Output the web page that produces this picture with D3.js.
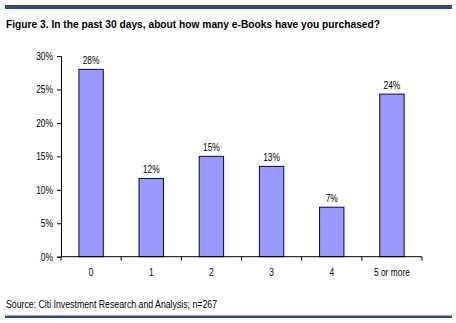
<!DOCTYPE html>
<html><head><meta charset="utf-8">
<script src="https://cdn.jsdelivr.net/npm/d3@7/dist/d3.min.js"></script>
<style>
body{margin:0;background:#fff;}
svg{display:block;}
</style></head>
<body><svg id="c" width="456" height="323"></svg>
<script>
const categories = ["0","1","2","3","4","5 or more"];
const values = [28.0, 11.7, 15.0, 13.5, 7.4, 24.3];
const valueLabels = ["28%","12%","15%","13%","7%","24%"];
const yTicks = [0,5,10,15,20,25,30];
const title = "Figure 3.  In the past 30 days, about how many e-Books have you purchased?";
const source = "Source: Citi Investment Research and Analysis; n=267";

const FONT = "Liberation Sans, Arial, sans-serif";
const NARROW = 0.8;
const svg = d3.select("#c");
const ruleColor = "#2f4b80";
svg.append("rect").attr("x",5).attr("y",5).attr("width",447).attr("height",4).attr("fill",ruleColor);
svg.append("rect").attr("x",5).attr("y",315.5).attr("width",447).attr("height",2.5).attr("fill",ruleColor);
svg.append("text").attr("x",6).attr("y",28).attr("font-family",FONT)
  .attr("font-weight","bold").attr("font-size",11.5).attr("fill","#000")
  .attr("textLength",374).attr("lengthAdjust","spacingAndGlyphs").text(title);
svg.append("text").attr("x",6).attr("y",307.5).attr("font-family",FONT)
  .attr("font-size",10).attr("fill","#000")
  .attr("textLength",211).attr("lengthAdjust","spacingAndGlyphs").text(source);

const x0 = 61, x1 = 422, yTop = 56, yBot = 256.7;
const x = d3.scaleBand().domain(categories).range([x0,x1]).padding(0);
const y = d3.scaleLinear().domain([0,30]).range([yBot,yTop]);

function narrowText(sel, tx, ty, anchor){
  sel.attr("x",0).attr("y",0).attr("text-anchor",anchor)
    .attr("transform",(d,i)=>`translate(${tx(d,i)},${ty(d,i)}) scale(${NARROW},1)`)
    .attr("font-family",FONT).attr("font-size",10.5).attr("fill","#000");
}

const g = svg.append("g");
const barW = x.bandwidth()*0.405;
g.selectAll("rect.bar").data(values).join("rect").attr("class","bar")
  .attr("x",(d,i)=>x(categories[i])+x.bandwidth()/2-barW/2)
  .attr("y",d=>y(d)).attr("width",barW).attr("height",d=>yBot-y(d))
  .attr("fill","#9999ff").attr("stroke","#000066").attr("stroke-width",1);

g.selectAll("text.vl").data(values).join("text").attr("class","vl")
  .call(narrowText,(d,i)=>x(categories[i])+x.bandwidth()/2,d=>y(d)-5,"middle")
  .text((d,i)=>valueLabels[i]);

// y axis
const yAxis = d3.axisLeft(y).tickValues(yTicks).tickSize(4).tickPadding(4).tickFormat(d=>d+"%");
const ya = svg.append("g").attr("transform",`translate(${x0},0)`).call(yAxis);
ya.select(".domain").attr("stroke","#000");
ya.selectAll(".tick line").attr("stroke","#000");
ya.selectAll(".tick text").attr("x",null).attr("dy",null)
  .call(narrowText,()=>-8,()=>3.5,"end");

// x axis
const xa = svg.append("g").attr("transform",`translate(0,${yBot})`);
xa.append("line").attr("x1",x0).attr("x2",x1).attr("y1",0).attr("y2",0).attr("stroke","#000");
const bounds = categories.map(c=>x(c)).concat([x1]);
xa.selectAll("line.t").data(bounds).join("line").attr("class","t")
  .attr("x1",d=>d).attr("x2",d=>d).attr("y1",0).attr("y2",4).attr("stroke","#000");
xa.selectAll("text.cl").data(categories).join("text").attr("class","cl")
  .call(narrowText,d=>x(d)+x.bandwidth()/2,()=>19,"middle")
  .text(d=>d);
</script></body></html>
